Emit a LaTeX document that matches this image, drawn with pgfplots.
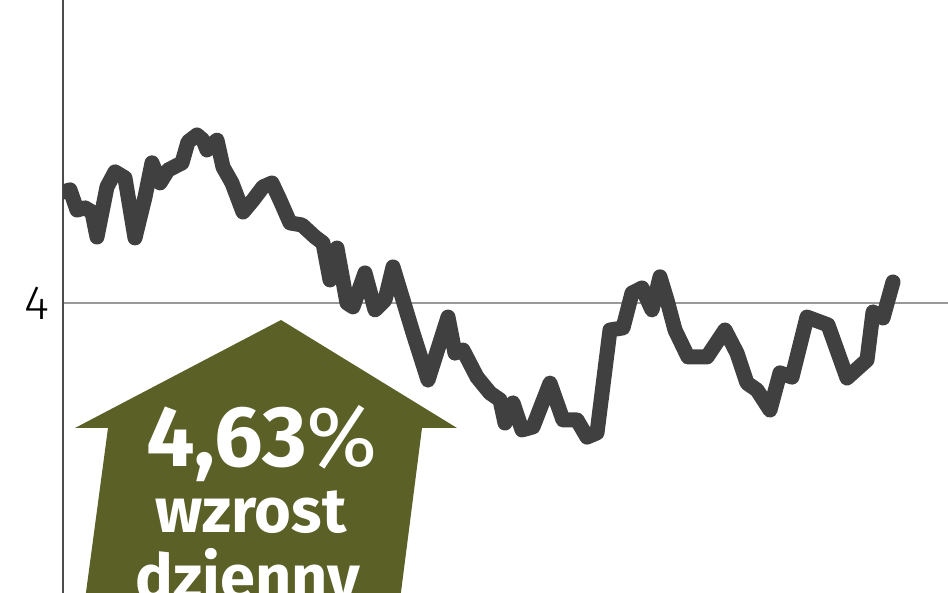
\documentclass[border=0pt]{standalone}
\usepackage{pgfplots}
\pgfplotsset{compat=1.18}
\usepackage{graphicx}
\usepackage{fontspec}
\setmainfont{Fira Sans}
\newfontfamily\lightfont{Fira Sans Light}
\definecolor{linegray}{RGB}{64,64,64}
\definecolor{arrowolive}{RGB}{90,96,38}

\begin{document}
\begin{tikzpicture}
\begin{axis}[
    name=ax,
    scale only axis,
    width=885pt, height=593pt,
    xmin=63, xmax=948,
    ymin=3.0333, ymax=5.01,
    axis x line=none,
    axis y line=left,
    axis line style={draw=black!70, line width=2.5pt, -},
    ytick={4}, yticklabels={4},
    yticklabel style={font=\lightfont\fontsize{48}{48}\selectfont, inner sep=0pt, xshift=-13pt},
    /pgf/number format/assume math mode=true,
    major tick length=0pt,
    ymajorgrids,
    grid style={draw=black!40, line width=2pt},
  ]
  % kurs dzienny
  \addplot[linegray, line width=15pt, line join=round, line cap=round] coordinates {
    (63,4.370) (70,4.377) (77,4.310) (85,4.317) (92,4.303) (97,4.220)
    (107,4.387) (115,4.437) (125,4.417) (135,4.217) (145,4.353) (152,4.467)
    (160,4.400) (168,4.443) (182,4.467) (188,4.537) (197,4.560) (203,4.543)
    (207,4.510) (217,4.543) (223,4.453) (232,4.400) (243,4.303) (253,4.343)
    (263,4.387) (272,4.400) (280,4.343) (290,4.267) (302,4.260) (315,4.220)
    (323,4.200) (330,4.077) (337,4.183) (347,4.000) (353,3.987) (365,4.100)
    (375,3.977) (385,4.010) (393,4.120) (403,4.010) (413,3.900) (428,3.743)
    (448,3.953) (455,3.833) (463,3.843) (477,3.753) (490,3.700) (500,3.677)
    (505,3.600) (513,3.667) (522,3.577) (533,3.587) (550,3.733) (563,3.610)
    (577,3.610) (587,3.553) (597,3.567) (610,3.910) (623,3.917) (632,4.033)
    (642,4.050) (652,3.977) (660,4.087) (667,4.010) (675,3.910) (688,3.820)
    (707,3.820) (725,3.910) (737,3.833) (747,3.733) (757,3.710) (770,3.643)
    (780,3.767) (792,3.753) (807,3.953) (828,3.927) (847,3.750) (867,3.810)
    (873,3.970) (883,3.950) (893,4.070)
  };
\end{axis}

% strzalka ze wzrostem
\begin{scope}[shift={(ax.north west)}, xshift=-63pt, x=1pt, y=-1pt]
  \fill[arrowolive] (281,320) -- (457,428) -- (422,428) -- (400,600)
    -- (85,600) -- (108,428) -- (75,428) -- cycle;
  \node[white, anchor=base, inner sep=0pt] at (262,467)
    {\fontsize{86}{86}\selectfont\bfseries 4,63\mdseries\%};
  \node[white, anchor=base, inner sep=0pt] at (251,533)
    {\fontsize{63}{63}\selectfont\bfseries wzrost};
  \node[white, anchor=base, inner sep=0pt] at (248,600)
    {\fontsize{63}{63}\selectfont\bfseries dzienny};
\end{scope}

\pgfresetboundingbox
\useasboundingbox ([xshift=-63pt]ax.south west) rectangle (ax.north east);
\end{tikzpicture}
\end{document}
